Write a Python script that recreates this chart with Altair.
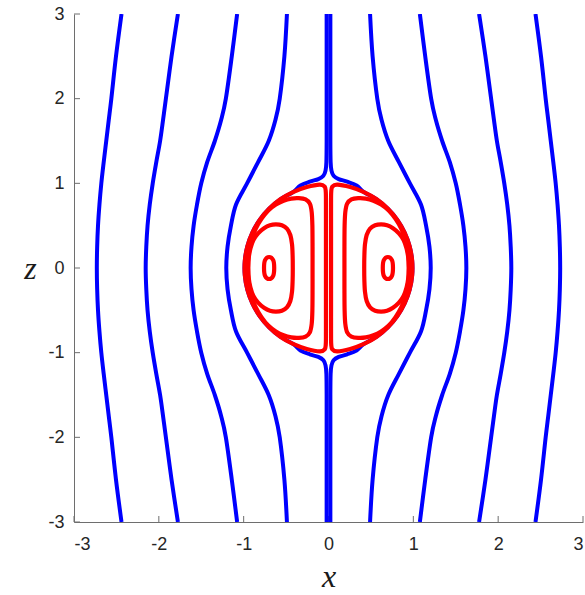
import altair as alt
import pandas as pd

tick_values = [-3, -2, -1, 0, 1, 2, 3]

# heights at which the outer streamlines are sampled
z_levels = [3.0, 2.5, 2.0, 1.75, 1.5, 1.25, 1.0, 0.75, 0.5, 0.25, 0.0,
            -0.25, -0.5, -0.75, -1.0, -1.25, -1.5, -1.75, -2.0, -2.5, -3.0]

# outer (blue) streamlines, x position at each z level
outer_left_1 = [-2.44, -2.505, -2.56, -2.59, -2.62, -2.65, -2.678, -2.70, -2.717, -2.727, -2.731,
                -2.727, -2.717, -2.70, -2.678, -2.65, -2.62, -2.59, -2.56, -2.505, -2.44]
outer_left_2 = [-1.775, -1.85, -1.917, -1.95, -1.985, -2.03, -2.072, -2.107, -2.133, -2.148, -2.155,
                -2.148, -2.133, -2.107, -2.072, -2.03, -1.985, -1.95, -1.917, -1.85, -1.775]
outer_left_3 = [-1.077, -1.14, -1.21, -1.265, -1.34, -1.43, -1.50, -1.55, -1.59, -1.615, -1.625,
                -1.615, -1.59, -1.55, -1.50, -1.43, -1.34, -1.265, -1.21, -1.14, -1.077]
outer_left_4 = [-0.49, -0.52, -0.575, -0.625, -0.705, -0.83, -0.96, -1.09, -1.15, -1.19, -1.205,
                -1.19, -1.15, -1.09, -0.96, -0.83, -0.705, -0.625, -0.575, -0.52, -0.49]
outer_right_1 = [2.44, 2.505, 2.56, 2.59, 2.62, 2.65, 2.678, 2.70, 2.717, 2.727, 2.731,
                 2.727, 2.717, 2.70, 2.678, 2.65, 2.62, 2.59, 2.56, 2.505, 2.44]
outer_right_2 = [1.775, 1.85, 1.917, 1.95, 1.985, 2.03, 2.072, 2.107, 2.133, 2.148, 2.155,
                 2.148, 2.133, 2.107, 2.072, 2.03, 1.985, 1.95, 1.917, 1.85, 1.775]
outer_right_3 = [1.077, 1.14, 1.21, 1.265, 1.34, 1.43, 1.50, 1.55, 1.59, 1.615, 1.625,
                 1.615, 1.59, 1.55, 1.50, 1.43, 1.34, 1.265, 1.21, 1.14, 1.077]
outer_right_4 = [0.49, 0.52, 0.575, 0.625, 0.705, 0.83, 0.96, 1.09, 1.15, 1.19, 1.205,
                 1.19, 1.15, 1.09, 0.96, 0.83, 0.705, 0.625, 0.575, 0.52, 0.49]

# the pair of blue streamlines running along the axis and around the sphere
axis_left_x = [-0.022, -0.022, -0.022, -0.025, -0.035, -0.06, -0.12, -0.22, -0.33, -0.418,
               -0.568, -0.70, -0.811, -0.897, -0.956, -0.986, -0.986, -0.956, -0.897, -0.811,
               -0.70, -0.568, -0.418, -0.33, -0.22, -0.12, -0.06, -0.035, -0.025, -0.022,
               -0.022, -0.022]
axis_left_z = [3.0, 2.0, 1.5, 1.25, 1.15, 1.09, 1.05, 1.02, 0.975, 0.897,
               0.811, 0.70, 0.568, 0.418, 0.256, 0.086, -0.086, -0.256, -0.418, -0.568,
               -0.70, -0.811, -0.897, -0.975, -1.02, -1.05, -1.09, -1.15, -1.25, -1.5,
               -2.0, -3.0]
axis_right_x = [0.022, 0.022, 0.022, 0.025, 0.035, 0.06, 0.12, 0.22, 0.33, 0.418,
                0.568, 0.70, 0.811, 0.897, 0.956, 0.986, 0.986, 0.956, 0.897, 0.811,
                0.70, 0.568, 0.418, 0.33, 0.22, 0.12, 0.06, 0.035, 0.025, 0.022,
                0.022, 0.022]
axis_right_z = [3.0, 2.0, 1.5, 1.25, 1.15, 1.09, 1.05, 1.02, 0.975, 0.897,
                0.811, 0.70, 0.568, 0.418, 0.256, 0.086, -0.086, -0.256, -0.418, -0.568,
                -0.70, -0.811, -0.897, -0.975, -1.02, -1.05, -1.09, -1.15, -1.25, -1.5,
                -2.0, -3.0]

# closed (red) streamlines inside the vortex: the one hugging the axis and the sphere
edge_right_x = [0.03, 0.03, 0.03, 0.03, 0.03, 0.03, 0.03, 0.032, 0.045,
                0.103, 0.256, 0.418, 0.568, 0.70, 0.811, 0.897, 0.956, 0.986,
                0.986, 0.956, 0.897, 0.811, 0.70, 0.568, 0.418, 0.256, 0.103, 0.045, 0.032]
edge_right_z = [0.75, 0.5, 0.25, 0.0, -0.25, -0.5, -0.75, -0.9, -0.96,
                -0.985, -0.956, -0.897, -0.811, -0.70, -0.568, -0.418, -0.256, -0.086,
                0.086, 0.256, 0.418, 0.568, 0.70, 0.811, 0.897, 0.956, 0.985, 0.96, 0.9]
edge_left_x = [-0.03, -0.03, -0.03, -0.03, -0.03, -0.03, -0.03, -0.032, -0.045,
               -0.103, -0.256, -0.418, -0.568, -0.70, -0.811, -0.897, -0.956, -0.986,
               -0.986, -0.956, -0.897, -0.811, -0.70, -0.568, -0.418, -0.256, -0.103, -0.045, -0.032]
edge_left_z = [0.75, 0.5, 0.25, 0.0, -0.25, -0.5, -0.75, -0.9, -0.96,
               -0.985, -0.956, -0.897, -0.811, -0.70, -0.568, -0.418, -0.256, -0.086,
               0.086, 0.256, 0.418, 0.568, 0.70, 0.811, 0.897, 0.956, 0.985, 0.96, 0.9]

mid_right_x = [0.19, 0.188, 0.188, 0.188, 0.19, 0.198, 0.22, 0.27, 0.35, 0.44, 0.53, 0.62, 0.71,
               0.79, 0.86, 0.91, 0.94, 0.95, 0.94, 0.91, 0.86, 0.79, 0.71, 0.62, 0.53, 0.44,
               0.35, 0.27, 0.22, 0.198]
mid_right_z = [-0.5, -0.25, 0.0, 0.25, 0.5, 0.66, 0.76, 0.81, 0.825, 0.82, 0.795, 0.75, 0.68,
               0.58, 0.46, 0.32, 0.16, 0.0, -0.16, -0.32, -0.46, -0.58, -0.68, -0.75, -0.795, -0.82,
               -0.825, -0.81, -0.76, -0.66]
mid_left_x = [-0.19, -0.188, -0.188, -0.188, -0.19, -0.198, -0.22, -0.27, -0.35, -0.44, -0.53, -0.62,
              -0.71, -0.79, -0.86, -0.91, -0.94, -0.95, -0.94, -0.91, -0.86, -0.79, -0.71, -0.62,
              -0.53, -0.44, -0.35, -0.27, -0.22, -0.198]
mid_left_z = [-0.5, -0.25, 0.0, 0.25, 0.5, 0.66, 0.76, 0.81, 0.825, 0.82, 0.795, 0.75, 0.68,
              0.58, 0.46, 0.32, 0.16, 0.0, -0.16, -0.32, -0.46, -0.58, -0.68, -0.75, -0.795, -0.82,
              -0.825, -0.81, -0.76, -0.66]

inner_right_x = [0.421, 0.423, 0.43, 0.45, 0.49, 0.55, 0.62, 0.69, 0.76, 0.83, 0.885, 0.92, 0.94,
                 0.945, 0.94, 0.92, 0.885, 0.83, 0.76, 0.69, 0.62, 0.55, 0.49, 0.45, 0.43, 0.423]
inner_right_z = [0.0, 0.15, 0.28, 0.39, 0.465, 0.505, 0.515, 0.505, 0.47, 0.41, 0.33, 0.23, 0.12,
                 0.0, -0.12, -0.23, -0.33, -0.41, -0.47, -0.505, -0.515, -0.505, -0.465, -0.39,
                 -0.28, -0.15]
inner_left_x = [-0.421, -0.423, -0.43, -0.45, -0.49, -0.55, -0.62, -0.69, -0.76, -0.83, -0.885,
                -0.92, -0.94, -0.945, -0.94, -0.92, -0.885, -0.83, -0.76, -0.69, -0.62, -0.55,
                -0.49, -0.45, -0.43, -0.423]
inner_left_z = [0.0, 0.15, 0.28, 0.39, 0.465, 0.505, 0.515, 0.505, 0.47, 0.41, 0.33, 0.23, 0.12,
                0.0, -0.12, -0.23, -0.33, -0.41, -0.47, -0.505, -0.515, -0.505, -0.465, -0.39,
                -0.28, -0.15]

core_right_x = [0.64, 0.652, 0.70, 0.748, 0.76, 0.748, 0.70, 0.652]
core_right_z = [0.0, 0.092, 0.13, 0.092, 0.0, -0.092, -0.13, -0.092]
core_left_x = [-0.64, -0.652, -0.70, -0.748, -0.76, -0.748, -0.70, -0.652]
core_left_z = [0.0, 0.092, 0.13, 0.092, 0.0, -0.092, -0.13, -0.092]


def add_curve(rows, name, xs, zs):
    for i, (x, z) in enumerate(zip(xs, zs)):
        rows.append({"curve": name, "i": i, "x": x, "z": z})


blue_rows = []
for name, xs in [("o_l1", outer_left_1), ("o_l2", outer_left_2), ("o_l3", outer_left_3),
                 ("o_l4", outer_left_4), ("o_r1", outer_right_1), ("o_r2", outer_right_2),
                 ("o_r3", outer_right_3), ("o_r4", outer_right_4)]:
    add_curve(blue_rows, name, xs, z_levels)
add_curve(blue_rows, "axis_l", axis_left_x, axis_left_z)
add_curve(blue_rows, "axis_r", axis_right_x, axis_right_z)
blue_df = pd.DataFrame(blue_rows)

red_rows = []
add_curve(red_rows, "edge_r", edge_right_x, edge_right_z)
add_curve(red_rows, "edge_l", edge_left_x, edge_left_z)
add_curve(red_rows, "mid_r", mid_right_x, mid_right_z)
add_curve(red_rows, "mid_l", mid_left_x, mid_left_z)
add_curve(red_rows, "inner_r", inner_right_x, inner_right_z)
add_curve(red_rows, "inner_l", inner_left_x, inner_left_z)
add_curve(red_rows, "core_r", core_right_x, core_right_z)
add_curve(red_rows, "core_l", core_left_x, core_left_z)
red_df = pd.DataFrame(red_rows)

W, H = 509, 508
AXIS_GREY = "#6e6e6e"
LABEL_COLOR = "#262626"

x_scale = alt.Scale(domain=[-3, 3], nice=False, zero=False)
z_scale = alt.Scale(domain=[-3, 3], nice=False, zero=False)

x_axis = alt.Axis(values=tick_values, title="x", grid=False, ticks=False,
                  labelExpr="'' + datum.value", labelPadding=13,
                  labelFont="Liberation Sans", labelFontSize=18, labelColor=LABEL_COLOR,
                  domainColor=AXIS_GREY, domainWidth=1,
                  titleFont="Liberation Serif", titleFontStyle="italic", titleFontWeight="normal",
                  titleFontSize=32, titleColor="#1a1a1a", titleBaseline="alphabetic",
                  titleY=64)
z_axis = alt.Axis(values=tick_values, title="z", grid=False, ticks=False,
                  labelExpr="'' + datum.value", labelPadding=10,
                  labelFont="Liberation Sans", labelFontSize=18, labelColor=LABEL_COLOR,
                  domainColor=AXIS_GREY, domainWidth=1,
                  titleFont="Liberation Serif", titleFontStyle="italic", titleFontWeight="normal",
                  titleFontSize=32, titleColor="#1a1a1a", titleAngle=0,
                  titleAlign="center", titleBaseline="middle", titleX=-44, titleY=H / 2)

X = alt.X("x:Q", scale=x_scale, axis=x_axis)
Z = alt.Y("z:Q", scale=z_scale, axis=z_axis)

tick_x_df = pd.DataFrame({"x": tick_values})
tick_z_df = pd.DataFrame({"z": tick_values})

# inward-pointing ticks along the bottom and left edges
ticks_x = alt.Chart(tick_x_df).mark_rule(color=AXIS_GREY, strokeWidth=1).encode(
    x=X, y=alt.value(H), y2=alt.value(H - 6))
ticks_z = alt.Chart(tick_z_df).mark_rule(color=AXIS_GREY, strokeWidth=1).encode(
    y=Z, x=alt.value(0), x2=alt.value(6))

blue = alt.Chart(blue_df).mark_line(color="#0000ff", strokeWidth=4, interpolate="cardinal",
                                    clip=True).encode(
    x=X, y=Z, detail="curve:N", order="i:Q")

red = alt.Chart(red_df).mark_line(color="#ff0000", strokeWidth=4.2,
                                  interpolate="cardinal-closed").encode(
    x=X, y=Z, detail="curve:N", order="i:Q")

chart = alt.layer(ticks_x, ticks_z, blue, red).properties(
    width=W, height=H,
    autosize=alt.AutoSizeParams(type="none"),
    padding={"left": 74, "top": 14, "right": 2, "bottom": 73},
    background="white",
).configure_view(strokeOpacity=0)

chart.save("out.html", embed_options={"renderer": "svg", "actions": False})
